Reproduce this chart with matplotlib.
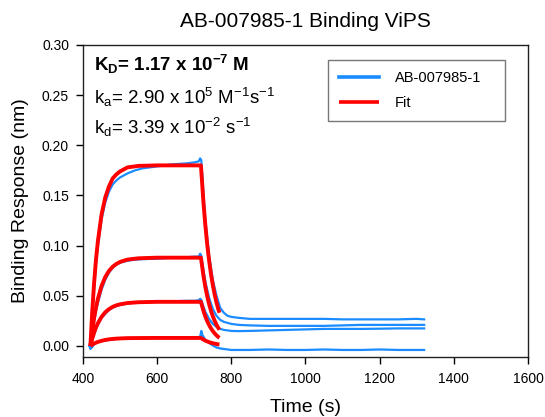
import matplotlib
matplotlib.use("Agg")
import matplotlib.pyplot as plt

plt.rcParams['font.family'] = ['Liberation Sans', 'DejaVu Sans']
plt.rcParams['mathtext.fontset'] = 'custom'
plt.rcParams['mathtext.rm'] = 'Liberation Sans'
plt.rcParams['mathtext.it'] = 'Liberation Sans'
plt.rcParams['mathtext.bf'] = 'Liberation Sans:bold'

# sensorgram traces (s, nm)
t_data = [418, 420, 425, 430, 435, 440, 450, 460, 470, 480, 490, 500, 520, 540, 560,
          600, 640, 680, 700, 712, 716, 719, 722, 730, 740, 750, 760, 770, 780, 790,
          800, 820, 850, 900, 950, 1000, 1050, 1100, 1150, 1200, 1250, 1300, 1320]
trace1 = [0.0, -0.002, 0.030, 0.058, 0.082, 0.099, 0.126, 0.143, 0.154, 0.161, 0.165, 0.168, 0.172, 0.175, 0.177,
          0.179, 0.181, 0.182, 0.183, 0.184, 0.187, 0.185, 0.168, 0.125, 0.090, 0.066, 0.050, 0.038, 0.033, 0.030,
          0.029, 0.028, 0.027, 0.027, 0.027, 0.027, 0.027, 0.0265, 0.0265, 0.0265, 0.0265, 0.027, 0.0265]
trace2 = [0.0, -0.002, 0.013, 0.025, 0.035, 0.043, 0.056, 0.066, 0.073, 0.078, 0.081, 0.083, 0.085, 0.086, 0.0865,
          0.087, 0.088, 0.0885, 0.089, 0.089, 0.092, 0.090, 0.082, 0.064, 0.048, 0.037, 0.030, 0.026, 0.024, 0.023,
          0.022, 0.021, 0.0205, 0.020, 0.020, 0.020, 0.020, 0.0205, 0.021, 0.021, 0.021, 0.021, 0.021]
trace3 = [0.0, -0.002, 0.006, 0.012, 0.017, 0.021, 0.028, 0.032, 0.036, 0.038, 0.040, 0.041, 0.0425, 0.043, 0.0435,
          0.044, 0.0445, 0.045, 0.045, 0.0455, 0.047, 0.046, 0.042, 0.034, 0.027, 0.022, 0.019, 0.017, 0.016, 0.0155,
          0.015, 0.0148, 0.015, 0.0155, 0.016, 0.0165, 0.017, 0.017, 0.017, 0.0172, 0.0175, 0.0175, 0.0175]
trace4 = [0.0, -0.003, -0.001, 0.002, 0.003, 0.004, 0.005, 0.0055, 0.006, 0.0065, 0.007, 0.0072, 0.0075, 0.0078, 0.008,
          0.008, 0.0082, 0.0085, 0.0085, 0.009, 0.009, 0.015, 0.011, 0.006, 0.003, 0.0005, -0.0015, -0.0025, -0.003, -0.0035,
          -0.004, -0.004, -0.004, -0.0035, -0.004, -0.004, -0.0035, -0.004, -0.004, -0.0035, -0.004, -0.004, -0.004]

# 1:1 fit curves, association then dissociation
t_fit = [420, 425, 430, 435, 440, 450, 460, 470, 480, 490, 500, 520, 550, 600, 660, 718,
         725, 730, 735, 740, 745, 750, 755, 760, 765, 768]
fit1 = [0.0, 0.035, 0.063, 0.086, 0.104, 0.131, 0.148, 0.159, 0.167, 0.171, 0.174, 0.178, 0.1795, 0.180, 0.180, 0.180,
        0.142, 0.120, 0.101, 0.0853, 0.072, 0.0608, 0.0513, 0.0432, 0.0365, 0.0331]
fit2 = [0.0, 0.0152, 0.0278, 0.0382, 0.0468, 0.0598, 0.0687, 0.0748, 0.079, 0.0818, 0.0838, 0.0861, 0.0874, 0.088, 0.088, 0.088,
        0.0694, 0.0586, 0.0495, 0.0417, 0.0352, 0.0297, 0.0251, 0.0211, 0.0179, 0.0162]
fit3 = [0.0, 0.0073, 0.0133, 0.0184, 0.0226, 0.029, 0.0336, 0.0367, 0.039, 0.0405, 0.0415, 0.0428, 0.0436, 0.044, 0.044, 0.044,
        0.0347, 0.0293, 0.0247, 0.0209, 0.0176, 0.0149, 0.0125, 0.0106, 0.0089, 0.0081]
fit4 = [0.0, 0.0013, 0.0024, 0.0033, 0.0040, 0.0051, 0.0060, 0.0066, 0.0070, 0.0073, 0.0075, 0.0078, 0.0079, 0.008, 0.008, 0.008,
        0.0063, 0.0053, 0.0045, 0.0038, 0.0032, 0.0027, 0.0023, 0.0019, 0.0016, 0.0015]

x_ticks = [400, 600, 800, 1000, 1200, 1400, 1600]
y_ticks = [0.00, 0.05, 0.10, 0.15, 0.20, 0.25, 0.30]

blue = '#1a8cff'
red = '#ff0000'

fig = plt.figure(figsize=(5.45, 4.17), dpi=100)
ax = fig.add_axes([0.1523, 0.1439, 0.8165, 0.7482])

for i, tr in enumerate([trace1, trace2, trace3, trace4]):
    ax.plot(t_data, tr, color=blue, lw=1.6, label='AB-007985-1' if i == 0 else None)
for i, f in enumerate([fit1, fit2, fit3, fit4]):
    ax.plot(t_fit, f, color=red, lw=2.8, solid_capstyle='butt',
            label='Fit' if i == 0 else None)

ax.set_xlim(400, 1600)
ax.set_ylim(-0.011, 0.30)
ax.set_xticks(x_ticks)
ax.set_yticks(y_ticks)
ax.set_yticklabels([f"{v:.2f}" for v in y_ticks])
ax.tick_params(axis='both', direction='out', length=5, width=1, labelsize=10)
ax.tick_params(axis='x', pad=6)
ax.tick_params(axis='y', pad=5)
for s in ax.spines.values():
    s.set_linewidth(1.0)
    s.set_color('#222222')

ax.set_title('AB-007985-1 Binding ViPS', fontsize=15, pad=13)
ax.set_xlabel('Time (s)', fontsize=14, labelpad=9)
ax.set_ylabel('Binding Response (nm)', fontsize=14, labelpad=9)

# kinetic constants
ax.text(0.025, 0.918, r'K$_{\mathbf{D}}$= 1.17 x 10$^{\mathbf{-7}}$ M', transform=ax.transAxes,
        fontsize=13.5, fontweight='bold', va='baseline')
ax.text(0.025, 0.811, r'k$_a$= 2.90 x 10$^5$ M$^{-1}$s$^{-1}$', transform=ax.transAxes,
        fontsize=13.5, va='baseline')
ax.text(0.025, 0.715, r'k$_d$= 3.39 x 10$^{-2}$ s$^{-1}$', transform=ax.transAxes,
        fontsize=13.5, va='baseline')

leg = ax.legend(loc='upper left', bbox_to_anchor=(0.551, 0.952, 0.397, 0.0), mode='expand',
                fontsize=10.5, frameon=True, fancybox=False, handlelength=2.7,
                borderpad=0.75, labelspacing=0.75, handletextpad=1.1, borderaxespad=0)
leg.get_frame().set_edgecolor('#555555')
leg.get_frame().set_linewidth(1.0)
for line in leg.get_lines():
    line.set_linewidth(2.6)

fig.savefig('out.png', dpi=100)
